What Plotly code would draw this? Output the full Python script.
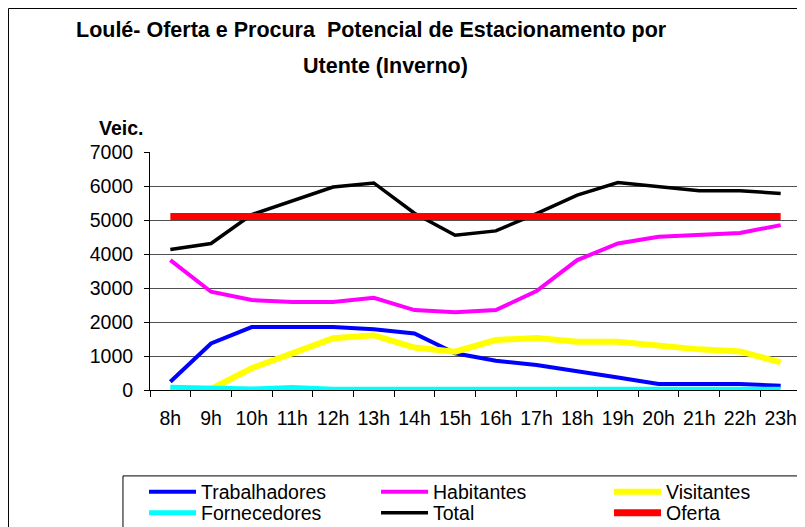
import plotly.graph_objects as go

horas = ["8h", "9h", "10h", "11h", "12h", "13h", "14h", "15h",
         "16h", "17h", "18h", "19h", "20h", "21h", "22h", "23h"]

trabalhadores = [245, 1370, 1850, 1850, 1850, 1790, 1665, 1080,
                 860, 735, 560, 370, 175, 175, 175, 125]
habitantes = [3820, 2890, 2645, 2585, 2585, 2710, 2350, 2290,
              2350, 2910, 3820, 4310, 4505, 4555, 4620, 4850]
visitantes = [0, 30, 640, 1080, 1520, 1610, 1250, 1125,
              1470, 1530, 1420, 1420, 1290, 1195, 1135, 810]
fornecedores = [80, 70, 30, 70, 20, 20, 20, 20,
                20, 20, 20, 20, 20, 20, 20, 20]
total = [4130, 4310, 5160, 5560, 5970, 6090, 5200, 4550,
         4680, 5190, 5730, 6100, 5970, 5860, 5860, 5780]
oferta = [5100, 5100, 5100, 5100, 5100, 5100, 5100, 5100,
          5100, 5100, 5100, 5100, 5100, 5100, 5100, 5100]

FONT = "Liberation Sans, Arial, sans-serif"

# a página tem margem de 8px no body; a parte de baixo da figura fica fora da janela
LINHA1 = -0.4286
LINHA2 = -0.5168

# nome, valores, cor, largura, legenda, x da legenda, linha
series = [
    ("Trabalhadores", trabalhadores, "#0000FF", 4, "legend", -0.0092, LINHA1),
    ("Habitantes", habitantes, "#FF00FF", 4, "legend2", 0.3472, LINHA1),
    ("Visitantes", visitantes, "#FFFF00", 6, "legend3", 0.7051, LINHA1),
    ("Fornecedores", fornecedores, "#00FFFF", 5, "legend4", -0.0092, LINHA2),
    ("Total", total, "#000000", 3.5, "legend5", 0.3472, LINHA2),
    ("Oferta", oferta, "#FF0000", 7, "legend6", 0.7051, LINHA2),
]

fig = go.Figure()
legendas = {}
for nome, valores, cor, larg, leg, lx, ly in series:
    fig.add_trace(go.Scatter(x=horas, y=valores, mode="lines", name=nome,
                             legend=leg, line=dict(color=cor, width=larg)))
    legendas[leg] = dict(x=lx, y=ly, xanchor="left", yanchor="middle",
                         itemwidth=47, font=dict(size=19.5),
                         bgcolor="rgba(0,0,0,0)", borderwidth=0)

fig.update_layout(
    width=797, height=545,
    margin=dict(l=142, r=4, t=144, b=163),
    paper_bgcolor="white", plot_bgcolor="white",
    font=dict(family=FONT, size=19.5, color="black"),
    showlegend=True,
    **legendas,
)

fig.update_xaxes(type="category", range=[-0.5, 15.5], tickson="boundaries",
                 ticks="outside", ticklen=6, tickcolor="black", tickangle=0,
                 showline=True, linecolor="black", linewidth=1,
                 showgrid=False, tickfont=dict(size=19.5), ticklabelstandoff=11,
                 automargin=False)
fig.update_yaxes(range=[0, 7000], dtick=1000, ticks="outside", ticklen=5,
                 tickcolor="black", showline=True, linecolor="black", linewidth=1,
                 showgrid=True, gridcolor="#505050", gridwidth=1, zeroline=False,
                 tickfont=dict(size=19.5), ticklabelstandoff=7, automargin=False)

# moldura exterior e caixa da legenda
fig.add_shape(type="rect", xref="paper", yref="paper",
              x0=-0.2174, x1=1.1, y0=-0.8, y1=1.603,
              line=dict(color="black", width=1), layer="below")
fig.add_shape(type="rect", xref="paper", yref="paper",
              x0=-0.0415, x1=1.1, y0=-0.8, y1=-0.361,
              line=dict(color="black", width=1), layer="below")

fig.add_annotation(text="<b>Loulé- Oferta e Procura  Potencial de Estacionamento por</b>",
                   xref="paper", yref="paper", x=0.3395, y=1.5126,
                   xanchor="center", yanchor="middle", showarrow=False,
                   font=dict(size=21.5))
fig.add_annotation(text="<b>Utente (Inverno)</b>",
                   xref="paper", yref="paper", x=0.361, y=1.361,
                   xanchor="center", yanchor="middle", showarrow=False,
                   font=dict(size=21.5))
fig.add_annotation(text="<b>Veic.</b>", xref="paper", yref="paper",
                   x=-0.0445, y=1.1008, xanchor="center", yanchor="middle",
                   showarrow=False, font=dict(size=19.5))

fig.write_html("out.html")
